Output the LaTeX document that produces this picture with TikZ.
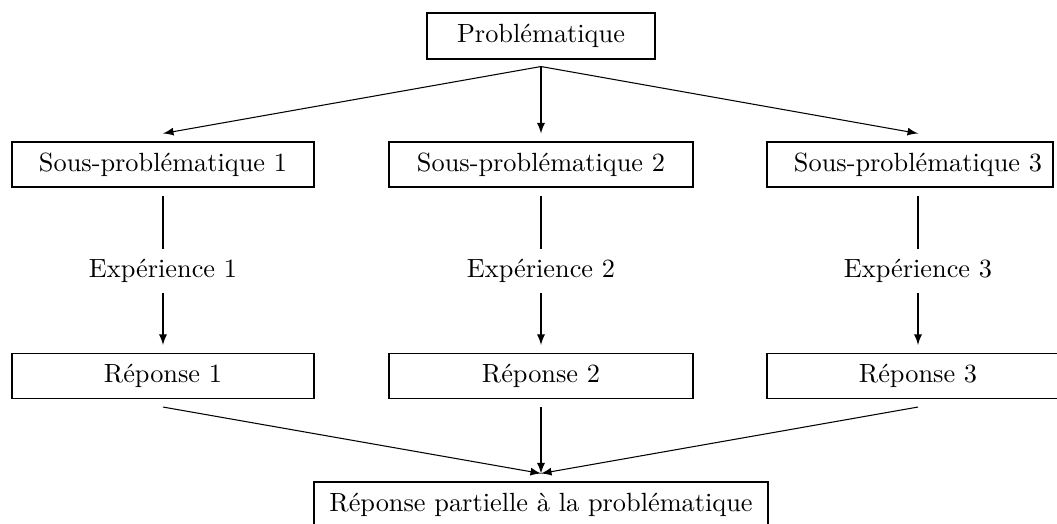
\documentclass[tikz,border=0pt]{standalone}
\usepackage{fontspec}
\usetikzlibrary{fit,calc}
\newcommand\pxl[1]{#1*0.38pt}
\begin{document}
\begin{tikzpicture}[x=0.38pt,y=-0.38pt,
  box/.style={draw, inner sep=0pt, minimum height=\pxl{45}},
  plain/.style={inner sep=0pt, minimum height=\pxl{45}},
  exper/.style={inner sep=0pt, minimum height=\pxl{42}},
  conn/.style={},
  arr/.style={-latex}]
\useasboundingbox (0,0) rectangle (1057,523);
\clip (0,0) rectangle (1057,523);
% top
\node[box, minimum width=\pxl{228}, minimum height=\pxl{46}] (P) at (541,36) {Problématique};
% sub-problems
\node[box, minimum width=\pxl{302}] (S1) at (163,164.5) {Sous-problématique 1};
\node[box, minimum width=\pxl{304}] (S2) at (541,164.5) {Sous-problématique 2};
\node[plain] (S3) at (918,164.5) {Sous-problématique 3};
\coordinate (s3a) at (767,142);
\coordinate (s3b) at (1053,187);
\node[draw, inner sep=0pt, fit=(s3a)(s3b)] (S3box) {};
% experiments
\node[exper] (E1) at (163,271) {Expérience 1};
\node[exper] (E2) at (541,271) {Expérience 2};
\node[exper] (E3) at (918,271) {Expérience 3};
% answers
\node[box, minimum width=\pxl{302}] (R1) at (163,376) {Réponse 1};
\node[box, minimum width=\pxl{304}] (R2) at (541,376) {Réponse 2};
\node[box, minimum width=\pxl{302}] (R3) at (918,376) {Réponse 3};
% final
\node[box, minimum width=\pxl{454}] (F) at (541,504.5) {Réponse partielle à la problématique};
% gap points
\coordinate (Pout) at ($(P.south)+(0,7)$);
\coordinate (Fin) at ($(F.north)+(0,-8)$);
\foreach \i in {1,2,3}{
  \coordinate (S\i in) at ($(S\i.north)+(0,-8)$);
  \coordinate (S\i out) at ($(S\i.south)+(0,8)$);
  \coordinate (R\i in) at ($(R\i.north)+(0,-8)$);
  \coordinate (R\i out) at ($(R\i.south)+(0,8)$);
}
% connectors
\foreach \i in {1,2,3}{
  \draw[arr] (Pout) -- (S\i in);
  \draw[conn] (S\i out) -- (E\i.north);
  \draw[arr] (E\i.south) -- (R\i in);
  \draw[arr] (R\i out) -- (Fin);
}
\end{tikzpicture}
\end{document}
